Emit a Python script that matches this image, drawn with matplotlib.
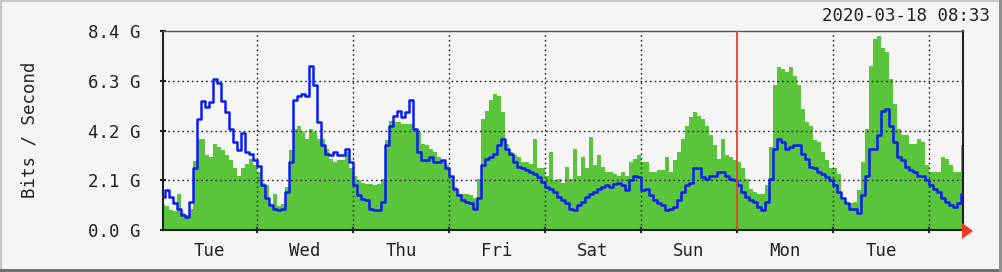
import matplotlib
matplotlib.use("Agg")
import matplotlib.pyplot as plt
from matplotlib.patches import Rectangle, Polygon

# ---- data (hours since left edge, hourly samples) ----
hours = list(range(0, 201))
incoming = [1.1, 1.0, 0.85, 0.8, 1.5, 0.7, 0.65, 0.9, 2.9, 3.85,
            3.85, 3.15, 3.1, 3.64, 3.5, 3.36, 3.15, 2.94, 2.6, 2.3,
            2.6, 2.8, 3.0, 2.73, 2.45, 2.0, 1.9, 1.05, 1.5, 1.0,
            1.1, 1.82, 3.36, 4.27, 4.4, 4.13, 3.85, 4.27, 4.13, 3.85,
            3.85, 3.43, 3.0, 2.87, 2.94, 2.94, 3.3, 2.6, 2.3, 2.1,
            2.0, 1.96, 1.96, 1.9, 1.96, 2.17, 3.8, 4.6, 4.55, 4.55,
            4.48, 4.48, 4.48, 4.27, 4.13, 3.64, 3.57, 3.43, 3.3, 3.08,
            2.94, 2.73, 2.3, 1.82, 1.54, 1.54, 1.54, 1.47, 1.33, 2.17,
            4.7, 5.04, 5.5, 5.74, 5.67, 4.97, 3.64, 3.3, 3.15, 3.08,
            2.87, 2.87, 2.8, 3.85, 2.6, 2.6, 2.3, 3.3, 2.1, 2.17,
            2.0, 2.66, 2.17, 3.43, 2.3, 3.08, 2.6, 3.92, 2.73, 3.15,
            2.66, 2.45, 2.45, 2.38, 2.3, 2.45, 2.3, 2.87, 3.0, 3.15,
            2.87, 2.87, 2.45, 2.45, 2.52, 2.52, 3.08, 2.45, 2.94, 3.3,
            3.85, 4.4, 4.76, 4.97, 4.83, 4.69, 4.4, 4.0, 3.57, 3.0,
            3.85, 3.15, 3.08, 2.94, 2.87, 2.6, 2.17, 1.75, 1.61, 1.54,
            1.54, 1.9, 3.5, 6.1, 6.9, 6.8, 6.65, 6.86, 6.5, 6.1,
            5.1, 4.55, 4.4, 3.78, 3.7, 3.3, 2.94, 2.6, 2.6, 2.38,
            1.26, 1.12, 1.12, 1.2, 1.68, 2.87, 4.27, 6.93, 8.05, 8.2,
            7.7, 7.5, 6.37, 5.32, 4.27, 4.0, 4.0, 3.64, 3.64, 3.85,
            3.7, 2.73, 2.45, 2.45, 2.45, 3.08, 3.0, 2.73, 2.45, 2.45,
            3.57]
outgoing = [1.4, 1.68, 1.4, 1.12, 0.9, 0.63, 0.56, 1.2, 2.6, 4.7,
            5.46, 5.2, 5.4, 6.37, 6.2, 5.46, 5.0, 4.27, 3.7, 3.36,
            4.1, 3.3, 3.2, 2.94, 2.7, 1.9, 1.33, 1.05, 0.9, 0.84,
            0.9, 1.6, 2.87, 5.5, 5.67, 5.74, 5.67, 6.93, 6.1, 4.55,
            3.57, 3.22, 3.15, 3.3, 3.15, 3.15, 3.43, 2.87, 1.9, 1.47,
            1.3, 1.26, 0.9, 0.84, 0.84, 1.2, 3.57, 4.4, 4.83, 5.04,
            4.76, 4.97, 5.5, 4.27, 3.3, 2.94, 2.94, 3.08, 2.87, 2.87,
            2.94, 2.6, 2.3, 1.75, 1.47, 1.26, 1.2, 1.12, 0.9, 1.33,
            2.73, 3.0, 3.08, 3.22, 3.57, 3.85, 3.43, 3.22, 2.87, 2.66,
            2.6, 2.52, 2.45, 2.38, 2.24, 2.03, 1.82, 1.75, 1.6, 1.4,
            1.26, 1.12, 0.9, 0.84, 1.05, 1.2, 1.4, 1.54, 1.6, 1.75,
            1.82, 1.9, 1.82, 1.96, 2.0, 1.9, 1.68, 2.1, 2.3, 2.24,
            1.68, 1.75, 1.47, 1.26, 1.12, 1.05, 0.84, 0.9, 0.98, 1.26,
            1.6, 1.9, 2.0, 2.6, 2.6, 2.24, 2.17, 2.3, 2.3, 2.45,
            2.45, 2.3, 2.17, 2.1, 1.9, 1.6, 1.4, 1.26, 1.2, 0.98,
            0.84, 1.2, 2.17, 3.43, 3.85, 3.7, 3.43, 3.5, 3.57, 3.57,
            3.22, 3.0, 2.66, 2.6, 2.45, 2.38, 2.24, 2.1, 1.9, 1.6,
            1.33, 1.12, 0.9, 0.9, 0.7, 1.47, 2.3, 3.43, 3.43, 4.0,
            5.04, 5.1, 4.4, 3.7, 3.08, 2.94, 2.66, 2.52, 2.45, 2.3,
            2.3, 2.1, 1.9, 1.75, 1.6, 1.33, 1.2, 1.05, 0.98, 1.12,
            1.54]
day_labels = ["Tue", "Wed", "Thu", "Fri", "Sat", "Sun", "Mon", "Tue"]
midnights = [23.5 + 24 * k for k in range(8)]
noons = [m - 12 for m in midnights]
week_start = 143.5
y_ticks = [0.0, 2.1, 4.2, 6.3, 8.4]
timestamp = "2020-03-18 08:33"

W, H = 1002, 272
fig = plt.figure(figsize=(W / 100, H / 100), dpi=100)
fig.patch.set_facecolor("#f5f5f5")

# bevelled frame
fig.patches.append(Rectangle((0, 0), 1, 1, transform=fig.transFigure,
                             fill=False, edgecolor="#c8c8c8", lw=3))
fig.patches.append(Rectangle((0, 0), 1, 3 / H, transform=fig.transFigure,
                             color="#707070", lw=0))
fig.patches.append(Rectangle((1 - 3 / W, 0), 3 / W, 1, transform=fig.transFigure,
                             color="#909090", lw=0))

ax = fig.add_axes([163 / W, 42 / H, 800 / W, 199 / H])
ax.set_facecolor("#f5f5f5")
ax.set_xlim(0, 200)
ax.set_ylim(0, 8.4)

ax.fill_between(hours, incoming, 0, step="mid", color="#5ac43a", lw=0, zorder=1)
ax.plot(hours, outgoing, drawstyle="steps-mid", color="#0a1ef0", lw=1.8, zorder=3)

# grid
for y in y_ticks[1:-1]:
    ax.axhline(y, color="#222222", lw=1.0, ls=(0, (1.2, 2.2)), zorder=2)
for m in midnights:
    if m != week_start:
        ax.axvline(m, color="#222222", lw=1.0, ls=(0, (1.2, 2.2)), zorder=2)
ax.axvline(week_start, color="#e8412c", lw=1.3, zorder=4)

for s in ax.spines.values():
    s.set_color("#222222")
    s.set_linewidth(1.5)
ax.spines["top"].set_color("#555555")
ax.spines["top"].set_linewidth(1.0)

mono = "DejaVu Sans Mono"
ax.set_yticks(y_ticks)
ax.set_yticklabels([f"{v:.1f} G" for v in y_ticks], family=mono, fontsize=12.5, color="#222222")
ax.tick_params(axis="y", length=4, width=1.5, direction="inout", pad=14, color="#222222")
ax.set_xticks(midnights)
ax.set_xticklabels([])
ax.tick_params(axis="x", length=5, width=1.5, direction="inout", color="#222222")
ax.set_xticks(noons, minor=True)
ax.set_xticklabels(day_labels, minor=True, family=mono, fontsize=12.5, color="#222222")
ax.tick_params(axis="x", which="minor", length=0, pad=9)

fig.text(30 / W, 1 - 130 / H, "Bits / Second", rotation=90, family=mono,
         fontsize=12.5, color="#222222", ha="center", va="center")
fig.text(990 / W, 1 - 16 / H, timestamp, family=mono, fontsize=12.5,
         color="#222222", ha="right", va="center")

# red arrow at end of x axis
fig.patches.append(Polygon([(962 / W, 1 - 223 / H), (973 / W, 1 - 231 / H), (962 / W, 1 - 239 / H)],
                           closed=True, transform=fig.transFigure, color="#f03a20", lw=0))

fig.savefig("out.png", dpi=100, facecolor=fig.get_facecolor())
